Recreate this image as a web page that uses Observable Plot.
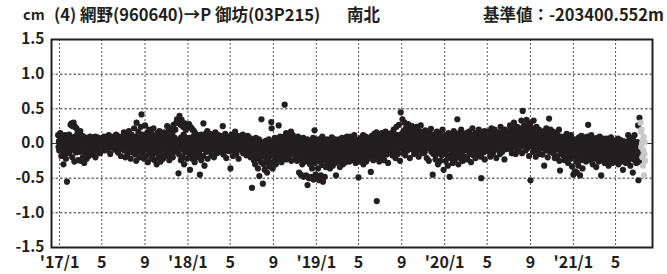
<!DOCTYPE html>
<html><head><meta charset="utf-8">
<script src="https://cdn.jsdelivr.net/npm/d3@7"></script>
<script src="https://cdn.jsdelivr.net/npm/@observablehq/plot@0.6"></script>
<style>
body{margin:0;background:#fff;}
#wrap{position:relative;width:667px;height:274px;overflow:hidden;}
.t{position:absolute;top:3px;font-family:'Noto Sans CJK JP',sans-serif;font-weight:bold;font-size:16.5px;line-height:22px;color:#231f20;white-space:pre;}
#chart{position:absolute;left:0;top:0;}
</style></head><body>
<div id="wrap">
<div id="chart"></div>
<div class="t" style="left:23px;font-size:14.5px">cm</div>
<div class="t" style="left:54px">(4) 網野(960640)→P 御坊(03P215)</div>
<div class="t" style="left:347px">南北</div>
<div class="t" style="right:3px">基準値：-203400.552m</div>
</div>
<script>
// ---- data (cm), daily values ----
const start2016 = "2016-12-28";
const v2016 = [0.12,-0.05,0.03,-0.1];
const v2017 = [
// Jan
0.04,-0.08,0.15,-0.03,0.06,-0.18,0.0,0.1,-0.12,-0.02,
0.05,-0.3,0.08,-0.06,0.02,0.12,-0.15,0.03,-0.22,0.07,
-0.05,-0.55,0.02,0.09,-0.1,0.05,-0.03,0.13,-0.14,0.01,-0.07,
// Feb
0.27,0.03,-0.06,0.29,0.07,-0.2,0.25,0.0,-0.09,0.3,
0.04,-0.26,0.1,0.24,-0.04,0.06,-0.13,0.22,0.02,-0.08,
0.15,-0.01,-0.24,0.08,0.04,-0.05,0.12,-0.12,
// Mar
0.18,0.02,-0.25,0.06,-0.09,0.01,0.11,-0.2,0.04,-0.03,
0.07,-0.28,-0.01,0.09,-0.14,0.05,-0.06,0.02,-0.22,0.08,
-0.02,0.06,-0.11,0.03,-0.18,0.0,0.07,-0.05,0.1,-0.08,0.02,
// Apr
0.04,-0.06,0.08,-0.02,0.02,-0.16,0.06,-0.01,-0.09,0.05,
-0.04,0.1,-0.2,0.01,0.05,-0.08,0.03,-0.02,0.09,-0.12,
0.03,-0.05,0.06,-0.03,0.0,-0.14,0.07,-0.05,0.03,-0.01,
// May
0.05,-0.03,0.08,0.01,-0.06,0.04,0.1,-0.02,0.02,-0.1,
0.06,-0.01,0.04,-0.05,0.09,0.02,-0.08,0.06,0.03,-0.02,
0.12,-0.04,0.02,0.07,-0.15,0.04,0.0,-0.06,0.08,0.02,-0.03,
// Jun
0.07,-0.04,0.03,0.1,-0.02,0.05,-0.09,0.01,0.07,-0.03,
0.13,-0.01,-0.07,0.04,0.08,-0.13,0.02,0.06,-0.03,0.1,
0.01,-0.05,0.06,-0.18,0.04,0.09,-0.02,0.03,-0.08,0.05,
// Jul
0.08,-0.04,0.16,-0.1,0.02,0.05,-0.2,0.06,-0.02,0.11,
-0.07,0.03,-0.15,0.09,-0.01,-0.05,0.18,-0.1,0.04,-0.02,
0.07,-0.22,0.02,0.13,-0.06,0.04,-0.13,0.0,0.1,-0.04,0.05,
// Aug
0.22,-0.08,0.03,-0.16,0.1,0.01,-0.25,0.3,-0.04,0.06,
-0.12,0.04,0.17,-0.07,-0.01,-0.2,0.09,0.02,-0.05,0.24,
-0.1,0.42,0.05,-0.14,0.01,0.13,-0.08,0.03,-0.22,0.07,-0.02,
// Sep
0.26,-0.09,0.05,-0.18,0.12,-0.01,-0.06,0.16,-0.27,0.03,
0.08,-0.04,0.2,-0.14,0.01,0.09,-0.11,0.04,-0.22,0.14,
-0.03,0.06,-0.16,0.0,0.22,-0.06,0.03,-0.24,0.08,-0.08,
// Oct
0.05,-0.13,0.1,-0.3,0.02,0.15,-0.07,0.0,-0.2,0.08,
-0.04,0.18,-0.1,0.03,-0.26,0.06,-0.02,-0.15,0.12,-0.05,
0.02,-0.22,0.08,-0.08,0.16,-0.01,-0.11,0.05,-0.18,0.09,-0.02,
// Nov
0.13,-0.06,0.25,0.02,-0.16,0.08,-0.03,0.19,-0.24,0.05,
0.1,-0.09,0.0,0.22,-0.14,0.06,-0.02,0.16,-0.2,0.03,
0.27,-0.05,0.09,-0.01,-0.12,0.2,0.02,-0.08,0.3,0.05,
// Dec
0.35,-0.1,0.02,0.3,-0.43,0.06,-0.16,0.4,-0.02,-0.05,
0.27,-0.24,0.09,0.34,-0.08,0.03,-0.2,0.24,-0.03,0.13,
-0.3,0.05,0.29,-0.13,0.0,0.2,-0.07,0.08,-0.22,0.26,0.02
];
const v2018 = [
// Jan
0.27,-0.06,0.02,0.28,-0.15,0.08,-0.38,0.24,-0.02,-0.1,
0.22,0.04,-0.22,0.2,-0.04,0.1,-0.16,0.18,0.0,-0.27,
0.15,-0.05,0.06,-0.13,0.13,0.02,-0.2,0.1,-0.08,0.04,-0.02,
// Feb
0.06,-0.15,0.02,-0.45,0.08,-0.04,0.13,-0.24,0.0,0.09,
-0.08,0.04,-0.18,0.29,-0.02,0.1,-0.32,0.05,-0.05,0.14,
-0.01,-0.12,0.07,-0.03,0.18,-0.22,0.03,-0.06,
// Mar
0.09,-0.03,0.05,-0.11,0.14,0.01,-0.06,0.1,-0.17,0.03,
0.06,-0.02,0.12,-0.09,0.02,-0.2,0.08,-0.01,-0.05,0.16,
-0.08,0.04,0.09,-0.14,0.01,0.05,-0.04,0.12,-0.1,0.03,-0.01,
// Apr
0.06,-0.08,0.11,-0.03,0.03,-0.13,0.08,0.0,-0.05,0.25,
0.02,-0.16,0.09,-0.02,0.05,-0.1,0.14,-0.04,0.01,-0.21,
0.07,-0.01,-0.06,0.1,-0.02,0.04,-0.11,0.08,-0.03,0.05,
// May
0.03,-0.36,0.08,-0.05,0.13,-0.01,-0.1,0.06,-0.18,0.03,
0.09,-0.03,0.05,-0.12,0.17,-0.06,0.01,0.08,-0.15,0.04,
-0.02,0.11,-0.08,0.02,-0.22,0.06,0.0,-0.04,0.1,-0.09,0.03,
// Jun
0.06,-0.04,0.1,-0.08,0.01,0.13,-0.14,0.03,-0.02,0.07,
-0.1,0.03,0.09,-0.06,-0.01,-0.17,0.06,0.02,-0.07,0.11,
-0.03,0.05,-0.13,0.0,0.08,-0.05,0.03,-0.2,0.06,-0.02,
// Jul
0.02,-0.64,-0.1,0.06,-0.18,-0.05,0.04,-0.25,-0.12,0.0,
-0.3,-0.07,0.08,-0.16,-0.03,-0.22,0.03,-0.1,-0.36,-0.02,
-0.14,0.06,-0.47,-0.06,-0.2,0.01,-0.11,-0.27,0.35,-0.08,-0.01,
// Aug
-0.16,-0.58,-0.08,-0.3,0.02,-0.12,-0.38,-0.04,-0.2,0.04,
-0.1,-0.26,-0.06,-0.42,-0.14,-0.01,-0.23,-0.09,0.06,-0.33,
-0.06,-0.18,-0.02,-0.28,-0.12,0.31,0.22,-0.16,-0.05,-0.36,-0.09,
// Sep
-0.12,0.02,-0.25,-0.07,0.08,-0.18,-0.03,-0.3,0.04,-0.1,
-0.02,-0.2,0.06,-0.14,-0.05,0.26,-0.23,0.01,-0.08,0.1,
-0.16,-0.04,0.03,-0.27,-0.07,0.07,-0.12,0.0,-0.2,0.03,
// Oct
-0.05,0.1,0.56,-0.16,0.04,-0.08,0.15,-0.23,0.0,0.08,
-0.11,0.02,-0.05,0.13,-0.19,0.06,-0.02,-0.13,0.1,-0.06,
0.17,-0.25,0.02,0.06,-0.1,0.12,-0.16,0.03,-0.03,0.08,-0.14,
// Nov
0.06,-0.12,0.0,-0.2,0.08,-0.06,-0.25,0.02,-0.1,0.1,
-0.16,-0.03,-0.42,0.04,-0.08,-0.23,0.01,-0.45,-0.13,0.06,
-0.05,-0.3,-0.02,-0.18,0.08,-0.48,-0.09,0.03,-0.26,-0.04,
// Dec
-0.15,0.02,-0.46,-0.08,-0.21,0.06,-0.6,-0.11,-0.26,-0.02,
-0.5,-0.13,0.04,-0.3,-0.06,-0.19,-0.48,0.01,-0.15,-0.36,
-0.04,-0.24,0.08,-0.52,-0.1,-0.17,0.19,-0.28,-0.07,-0.45,-0.01
];
const v2019 = [
// Jan
-0.14,-0.5,0.02,-0.22,-0.08,-0.36,0.06,-0.18,-0.53,-0.04,
-0.26,-0.11,0.04,-0.46,-0.16,-0.06,-0.31,0.1,-0.2,-0.55,
-0.1,0.0,-0.24,-0.14,-0.48,0.03,-0.12,-0.34,-0.05,-0.18,0.06,
// Feb
-0.19,-0.06,-0.3,0.04,-0.13,-0.24,-0.02,-0.1,-0.36,0.02,
-0.16,-0.07,-0.26,0.09,-0.18,-0.11,-0.32,-0.03,0.03,-0.22,
-0.13,-0.05,-0.28,0.06,-0.16,-0.46,-0.08,0.0,
// Mar
-0.18,-0.05,-0.26,0.03,-0.13,-0.21,0.06,-0.08,-0.34,-0.03,
-0.15,0.01,-0.24,-0.1,0.08,-0.19,-0.06,-0.3,-0.01,-0.13,
-0.22,0.05,-0.11,-0.05,-0.27,0.02,-0.16,-0.08,0.1,-0.23,-0.1,
// Apr
-0.03,-0.17,0.06,-0.1,-0.26,0.02,-0.06,0.1,-0.2,-0.09,
0.0,-0.14,0.05,-0.24,-0.04,0.08,-0.15,-0.08,0.12,-0.19,
-0.03,0.03,-0.28,-0.09,0.06,-0.12,-0.01,-0.22,0.05,-0.06,
// May
-0.49,-0.09,0.05,-0.17,0.0,-0.26,-0.06,0.08,-0.13,-0.03,
-0.21,0.03,-0.11,0.12,-0.3,-0.05,0.06,-0.15,-0.01,-0.19,
0.1,-0.08,-0.26,0.02,-0.12,0.06,-0.22,-0.03,0.08,-0.1,-0.17,
// Jun
0.03,-0.12,0.07,-0.18,-0.41,0.0,-0.06,0.11,-0.15,-0.03,
0.08,-0.24,0.02,-0.08,0.14,-0.05,-0.17,0.05,-0.01,-0.11,
0.16,-0.83,0.03,-0.21,-0.04,0.1,-0.1,0.0,-0.26,0.06,
// Jul
-0.05,0.08,-0.14,0.03,-0.08,0.15,-0.2,-0.01,0.05,-0.11,
0.11,-0.03,-0.24,0.07,0.01,-0.13,0.17,-0.06,0.04,-0.16,
0.09,-0.02,0.02,-0.28,0.1,-0.08,0.14,-0.01,-0.1,0.05,-0.04,
// Aug
0.07,-0.09,0.15,-0.01,-0.17,0.1,0.03,-0.06,0.2,-0.12,
0.05,0.13,-0.03,-0.21,0.08,0.01,0.24,-0.09,0.04,0.12,
-0.15,0.07,-0.01,0.27,-0.07,0.1,-0.25,0.02,0.45,0.05,-0.04,
// Sep
0.14,-0.03,0.35,0.07,-0.13,0.18,0.02,-0.06,0.3,0.04,
-0.17,0.1,0.22,-0.02,0.06,0.16,-0.1,0.09,0.28,0.0,
-0.05,0.12,0.03,-0.21,0.2,0.07,-0.01,0.14,-0.08,0.25,
// Oct
0.06,-0.08,0.15,0.01,0.1,-0.15,0.07,0.2,-0.04,0.02,
0.12,-0.12,0.05,0.24,-0.01,-0.07,0.14,0.04,-0.19,0.09,
0.18,-0.03,0.07,-0.1,0.26,0.01,0.11,-0.05,0.04,0.16,-0.14,
// Nov
0.09,-0.05,0.15,-0.01,-0.13,0.07,0.19,-0.08,0.03,0.11,
-0.21,0.05,0.0,0.14,-0.04,0.09,-0.25,0.17,0.02,-0.07,
0.1,-0.01,0.21,-0.12,0.05,-0.03,0.12,-0.45,0.07,-0.15,
// Dec
0.04,-0.1,0.13,-0.03,0.07,-0.23,0.1,-0.01,-0.15,0.17,
-0.06,0.02,-0.3,0.08,0.0,-0.12,0.15,-0.07,0.05,-0.25,
0.12,-0.02,0.06,-0.17,0.03,0.2,-0.09,-0.01,-0.38,0.1,-0.04
];
const v2020 = [
// Jan
0.07,-0.14,0.03,-0.25,0.12,-0.05,0.01,-0.17,0.09,-0.32,
-0.01,0.15,-0.09,0.05,-0.48,-0.03,0.1,-0.21,0.04,-0.07,
0.14,-0.15,0.01,-0.28,0.07,-0.06,0.18,-0.1,0.02,-0.23,0.09,
// Feb
-0.03,0.12,-0.17,0.05,-0.01,0.35,-0.12,0.07,-0.3,0.03,
0.15,-0.07,0.01,-0.21,0.1,-0.04,0.2,-0.14,0.04,-0.02,
0.08,-0.25,0.05,0.14,-0.09,-0.01,-0.19,0.11,-0.06,
// Mar
0.07,-0.1,0.15,-0.04,0.04,-0.23,0.1,-0.01,-0.07,0.17,
0.02,-0.15,0.09,-0.04,0.13,-0.27,0.05,0.01,-0.12,0.22,
-0.03,0.07,-0.17,0.1,-0.01,0.04,-0.09,0.15,-0.21,0.05,-0.02,
// Apr
0.09,-0.05,0.14,0.01,-0.15,0.07,0.2,-0.03,0.04,-0.1,
0.12,-0.01,-0.19,-0.5,0.05,0.16,-0.07,0.02,0.1,-0.13,
0.07,-0.02,0.18,-0.23,0.04,0.09,-0.04,0.13,-0.08,0.01,
// May
0.1,-0.04,0.17,0.02,-0.12,0.07,0.14,-0.02,0.05,-0.19,
0.12,0.01,0.22,-0.07,0.09,0.04,-0.15,0.16,-0.01,0.07,
-0.1,0.2,0.02,-0.05,0.11,0.05,-0.21,0.14,0.01,0.08,-0.03,
// Jun
0.16,0.01,-0.08,0.12,0.04,-0.15,0.09,0.24,-0.02,0.07,
-0.01,0.14,-0.12,0.05,0.18,-0.05,0.1,0.02,-0.23,0.08,
0.2,-0.01,0.05,0.12,-0.08,0.04,0.16,-0.04,0.07,0.01,
// Jul
0.1,-0.04,0.18,0.07,0.26,-0.08,0.04,0.14,0.01,-0.14,
0.22,0.09,-0.02,0.16,0.05,0.3,-0.06,0.11,0.03,0.2,
-0.15,0.12,0.07,-0.01,0.24,0.04,-0.1,0.16,0.09,-0.01,0.14,
// Aug
0.07,0.22,-0.05,0.14,0.03,0.33,0.09,-0.14,0.18,0.47,
0.05,0.12,-0.02,0.26,0.1,0.01,0.2,-0.1,0.16,0.07,
0.34,0.04,-0.07,0.14,0.25,-0.01,0.11,-0.18,0.19,0.05,0.29,
// Sep
-0.53,0.09,0.16,-0.04,0.12,0.02,0.22,-0.12,0.07,0.33,
-0.01,0.14,-0.07,0.18,0.04,-0.19,0.1,0.24,0.01,-0.1,
0.16,0.05,-0.03,0.12,0.2,-0.15,0.07,-0.01,0.14,-0.06,
// Oct
0.09,-0.07,0.16,0.02,-0.16,0.12,0.05,-0.03,0.18,-0.32,
0.07,-0.01,0.14,-0.1,0.04,0.22,-0.06,0.09,0.01,-0.2,
0.1,0.16,-0.02,0.36,0.05,-0.12,0.07,0.2,-0.04,0.02,0.12,
// Nov
-0.07,0.1,0.01,0.17,-0.14,0.05,-0.03,0.12,-0.21,0.07,
-0.01,0.15,-0.09,0.03,-0.05,0.13,-0.18,0.02,0.09,-0.06,
0.2,-0.25,0.05,-0.39,0.0,0.1,-0.12,0.07,-0.02,0.04,
// Dec
-0.1,0.05,-0.17,0.0,-0.05,0.1,-0.24,-0.02,0.06,-0.13,
0.02,-0.08,0.14,-0.2,-0.04,0.04,-0.28,0.08,-0.07,-0.01,
-0.15,0.06,-0.05,-0.22,0.12,-0.1,0.0,-0.33,0.05,-0.12,-0.02
];
const v2021 = [
// Jan
-0.45,-0.09,0.03,-0.18,-0.4,0.06,-0.12,-0.04,-0.26,0.0,
-0.42,-0.15,0.05,-0.07,-0.32,-0.2,0.09,-0.03,-0.14,-0.46,
0.02,-0.09,-0.24,0.11,-0.06,-0.17,-0.36,-0.01,-0.11,0.04,-0.2,
// Feb
-0.09,0.05,-0.17,-0.03,0.09,-0.26,-0.06,0.0,-0.13,0.1,
-0.2,0.27,-0.08,0.02,-0.15,-0.1,0.07,-0.24,-0.01,-0.05,
0.12,-0.18,-0.09,0.04,-0.3,-0.04,0.05,-0.12,
// Mar
-0.17,0.02,-0.11,-0.22,0.07,-0.06,-0.34,-0.01,-0.14,0.08,
-0.19,-0.08,0.04,-0.26,-0.03,-0.12,0.1,-0.2,-0.09,0.0,
-0.46,-0.15,0.05,-0.04,-0.24,-0.11,0.07,-0.17,-0.06,0.02,-0.28,
// Apr
-0.12,0.0,-0.2,-0.06,0.07,-0.26,-0.11,-0.03,-0.17,0.04,
-0.32,-0.09,0.02,-0.15,-0.22,-0.01,-0.08,0.09,-0.19,-0.12,
-0.04,-0.28,0.05,-0.14,-0.06,-0.21,0.0,-0.11,-0.24,-0.08,
// May
-0.16,-0.05,-0.24,0.03,-0.13,-0.19,-0.08,0.07,-0.3,-0.11,
-0.02,-0.17,-0.22,-0.06,0.05,-0.14,-0.26,-0.1,0.01,-0.2,
-0.13,-0.38,-0.03,-0.16,0.03,-0.24,-0.09,-0.18,0.0,-0.28,-0.08,
// Jun
-0.11,0.02,-0.2,-0.06,-0.26,0.12,-0.14,-0.03,-0.19,0.06,
-0.09,-0.32,-0.04,0.08,-0.16,-0.22,0.0,-0.11,-0.42,-0.07,
0.04,-0.17,-0.12,0.12,-0.24,-0.04,-0.14,-0.01,-0.28,-0.09,
// Jul 1-10
-0.18,0.02,-0.12,0.26,-0.53,-0.06,-0.26,0.37,-0.1,-0.2
];
// preliminary (grey) values, from 2021-07-11
const startGrey = "2021-07-11";
const vGrey = [0.3,0.17,-0.05,0.2,0.0,-0.2,0.05,-0.32,-0.1,0.1,-0.46,-0.15,0.02,-0.25];

// axis ticks
const yTicks = [-1.5,-1.0,-0.5,0.0,0.5,1.0,1.5];
const yGrid = [-1.0,-0.5,0.5,1.0];
const xTickDates = ["2017-01-01","2017-05-01","2017-09-01","2018-01-01","2018-05-01","2018-09-01","2019-01-01","2019-05-01","2019-09-01","2020-01-01","2020-05-01","2020-09-01","2021-01-01","2021-05-01"];
const xTickLabels = ["'17/1","5","9","'18/1","5","9","'19/1","5","9","'20/1","5","9","'21/1","5"];
const xDomain = ["2016-12-09","2021-08-14"];

// ---- build table ----
function series(startStr, vals) {
  const s = new Date(startStr + "T00:00:00Z");
  return vals.map((v, i) => ({date: new Date(Date.UTC(s.getUTCFullYear(), s.getUTCMonth(), s.getUTCDate() + i)), v}));
}
const black = [
  ...series(start2016, v2016),
  ...series("2017-01-01", v2017),
  ...series("2018-01-01", v2018),
  ...series("2019-01-01", v2019),
  ...series("2020-01-01", v2020),
  ...series("2021-01-01", v2021)
];
const grey = series(startGrey, vGrey);
const tickDates = xTickDates.map(d => new Date(d + "T00:00:00Z"));
const labelMap = new Map(tickDates.map((d, i) => [+d, xTickLabels[i]]));

const chart = Plot.plot({
  width: 667, height: 274,
  marginLeft: 51, marginRight: 15, marginTop: 39, marginBottom: 27,
  style: {fontFamily: "'Noto Sans CJK JP', sans-serif", fontSize: "15.5px", fontWeight: "bold", color: "#231f20", background: "transparent"},
  x: {type: "utc", domain: xDomain.map(d => new Date(d + "T00:00:00Z"))},
  y: {domain: [-1.5, 1.5]},
  marks: [
    Plot.ruleY(yGrid, {stroke: "#333", strokeDasharray: "2.5,2"}),
    Plot.ruleX(tickDates, {stroke: "#555", strokeDasharray: "2,2"}),
    Plot.ruleY([0], {stroke: "#333", strokeWidth: 1}),
    Plot.dot(black, {x: "date", y: "v", r: 3.1, fill: "#231f20"}),
    Plot.dot(grey, {x: "date", y: "v", r: 3.1, fill: "#c8c8c8"}),
    Plot.frame({stroke: "#231f20", strokeWidth: 2}),
    Plot.axisY({ticks: yTicks, tickFormat: d => d.toFixed(1), tickSize: 0, tickPadding: 7, label: null}),
    Plot.axisX({ticks: tickDates, tickFormat: d => labelMap.get(+d), tickSize: 0, tickPadding: 9, label: null, fontSize: "16px"})
  ]
});
document.getElementById("chart").appendChild(chart);
</script>
</body></html>
